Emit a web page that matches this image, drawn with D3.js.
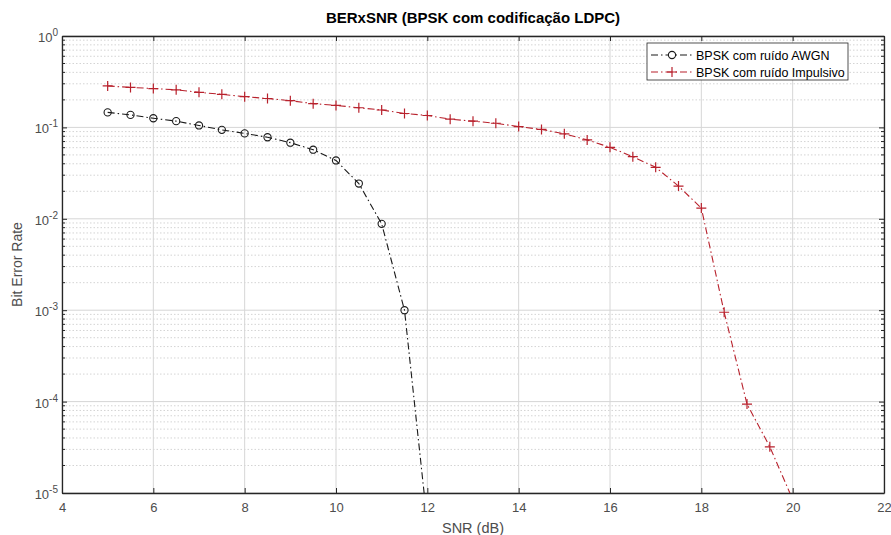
<!DOCTYPE html>
<html>
<head>
<meta charset="utf-8">
<script src="https://cdn.jsdelivr.net/npm/d3@7"></script>
<style>
  body { margin: 0; background: #fff; }
  svg { font-family: "Liberation Sans", Arial, sans-serif; }
</style>
</head>
<body>
<div id="chart"></div>
<script>
// SNR values (dB)
var snrAwgn = [5, 5.5, 6, 6.5, 7, 7.5, 8, 8.5, 9, 9.5, 10, 10.5, 11, 11.5, 12];
var berAwgn = [0.146, 0.137, 0.126, 0.117, 0.105, 0.094, 0.086, 0.078, 0.068, 0.057, 0.0435, 0.0243, 0.0088, 0.001, 0.0000047];

var snrImp = [5, 5.5, 6, 6.5, 7, 7.5, 8, 8.5, 9, 9.5, 10, 10.5, 11, 11.5, 12, 12.5, 13, 13.5, 14, 14.5, 15, 15.5, 16, 16.5, 17, 17.5, 18, 18.5, 19, 19.5, 20];
var berImp = [0.284, 0.274, 0.266, 0.258, 0.242, 0.23, 0.217, 0.207, 0.196, 0.182, 0.174, 0.164, 0.155, 0.142, 0.135, 0.123, 0.117, 0.111, 0.102, 0.095, 0.085, 0.073, 0.0605, 0.0478, 0.0366, 0.0228, 0.0131, 0.00095, 0.000094, 0.000032, 0.0000085];

var xTicks = [4, 6, 8, 10, 12, 14, 16, 18, 20, 22];
var yExps = [0, -1, -2, -3, -4, -5];
var legendLabels = ["BPSK com ruído AWGN", "BPSK com ruído Impulsivo"];

var W = 891, H = 535;
var margin = {left: 62, right: 7, top: 36, bottom: 42};
var axisColor = "#262626", tickText = "#4d4d4d";
var red = "#b8212c";
var dashDot = "7,3,1.5,3";

var svg = d3.select("#chart").append("svg").attr("width", W).attr("height", H);

var x = d3.scaleLinear().domain([4, 22]).range([margin.left, W - margin.right]);
var y = d3.scaleLog().domain([1e-5, 1]).range([H - margin.bottom, margin.top]);

var x0 = x.range()[0], x1 = x.range()[1], y0 = y.range()[0], y1 = y.range()[1];

svg.append("defs").append("clipPath").attr("id", "plotClip")
  .append("rect").attr("x", x0).attr("y", y1).attr("width", x1 - x0).attr("height", y0 - y1);

// minor y values
var minorY = [];
yExps.forEach(function(e) {
  if (e === 0) return;
  for (var k = 2; k <= 9; k++) minorY.push(k * Math.pow(10, e));
});

var grid = svg.append("g");
grid.selectAll(".ymin").data(minorY).enter().append("line")
  .attr("x1", x0).attr("x2", x1)
  .attr("y1", function(d) { return y(d); }).attr("y2", function(d) { return y(d); })
  .attr("stroke", "#d4d4d4").attr("stroke-width", 1).attr("stroke-dasharray", "1.5,2");
grid.selectAll(".ymaj").data(yExps).enter().append("line")
  .attr("x1", x0).attr("x2", x1)
  .attr("y1", function(d) { return y(Math.pow(10, d)); }).attr("y2", function(d) { return y(Math.pow(10, d)); })
  .attr("stroke", "#d6d6d6").attr("stroke-width", 1);
grid.selectAll(".xmaj").data(xTicks).enter().append("line")
  .attr("y1", y0).attr("y2", y1)
  .attr("x1", function(d) { return x(d); }).attr("x2", function(d) { return x(d); })
  .attr("stroke", "#d6d6d6").attr("stroke-width", 1);

// axes with inward ticks
var gx = svg.append("g").attr("transform", "translate(0," + y0 + ")")
  .call(d3.axisBottom(x).tickValues(xTicks).tickSizeInner(-5).tickSizeOuter(0).tickPadding(10));
var gxTop = svg.append("g").attr("transform", "translate(0," + y1 + ")")
  .call(d3.axisTop(x).tickValues(xTicks).tickSizeInner(-5).tickSizeOuter(0).tickFormat(""));
var gy = svg.append("g").attr("transform", "translate(" + x0 + ",0)")
  .call(d3.axisLeft(y).tickValues(yExps.map(function(e) { return Math.pow(10, e); }))
    .tickSizeInner(-5).tickSizeOuter(0).tickPadding(8).tickFormat(""));
var gyR = svg.append("g").attr("transform", "translate(" + x1 + ",0)")
  .call(d3.axisRight(y).tickValues(yExps.map(function(e) { return Math.pow(10, e); }))
    .tickSizeInner(-5).tickSizeOuter(0).tickFormat(""));
[gy, gyR].forEach(function(g, i) {
  g.selectAll(".minor").data(minorY).enter().append("line")
    .attr("x1", 0).attr("x2", i === 0 ? 3 : -3)
    .attr("y1", function(d) { return y(d); }).attr("y2", function(d) { return y(d); })
    .attr("stroke", axisColor);
});
[gx, gxTop, gy, gyR].forEach(function(g) {
  g.select(".domain").attr("stroke", axisColor).attr("stroke-width", 1.3);
  g.selectAll(".tick line").attr("stroke", axisColor);
  g.selectAll("text").attr("fill", tickText).style("font-size", "13px")
    .style("font-family", "'Liberation Sans', Arial, sans-serif");
});

// y tick labels 10^n
var ylab = svg.append("g");
yExps.forEach(function(e) {
  var t = ylab.append("text").attr("x", x0 - 4).attr("y", y(Math.pow(10, e)) + 6)
    .attr("text-anchor", "end").attr("fill", tickText).style("font-size", "13px");
  t.append("tspan").text("10");
  t.append("tspan").attr("dy", -6).style("font-size", "10px").text(e);
});

// series
var plot = svg.append("g").attr("clip-path", "url(#plotClip)");
function series(sx, sy, color) {
  var pts = sx.map(function(d, i) { return [x(d), y(sy[i])]; });
  plot.append("path").attr("d", d3.line()(pts))
    .attr("fill", "none").attr("stroke", color).attr("stroke-width", 1.1)
    .attr("stroke-dasharray", dashDot);
  return pts;
}
var pA = series(snrAwgn, berAwgn, "#1a1a1a");
plot.selectAll(".mo").data(pA).enter().append("circle")
  .attr("cx", function(d) { return d[0]; }).attr("cy", function(d) { return d[1]; })
  .attr("r", 3.6).attr("fill", "none").attr("stroke", "#1a1a1a").attr("stroke-width", 1.1);
var pI = series(snrImp, berImp, red);
plot.selectAll(".mp").data(pI).enter().append("path")
  .attr("d", function(d) { return "M" + (d[0] - 5) + "," + d[1] + "h10M" + d[0] + "," + (d[1] - 5) + "v10"; })
  .attr("stroke", red).attr("stroke-width", 1.2).attr("fill", "none");

// title and labels
svg.append("text").attr("x", (x0 + x1) / 2).attr("y", 23).attr("text-anchor", "middle")
  .style("font-size", "15px").style("font-weight", "bold").attr("fill", "#000")
  .text("BERxSNR (BPSK com codificação LDPC)");
svg.append("text").attr("x", (x0 + x1) / 2).attr("y", H - 2).attr("text-anchor", "middle")
  .style("font-size", "14.5px").attr("fill", tickText).text("SNR (dB)");
svg.append("text").attr("transform", "translate(22," + ((y0 + y1) / 2) + ") rotate(-90)")
  .attr("text-anchor", "middle").style("font-size", "14px").attr("fill", tickText).text("Bit Error Rate");

// legend
var lg = svg.append("g").attr("transform", "translate(647,43)");
lg.append("rect").attr("width", 201).attr("height", 37).attr("fill", "#fff")
  .attr("stroke", "#262626").attr("stroke-width", 0.8);
var legendColors = ["#1a1a1a", red];
legendLabels.forEach(function(lab, i) {
  var cy = 12 + i * 17;
  lg.append("line").attr("x1", 4).attr("x2", 46).attr("y1", cy).attr("y2", cy)
    .attr("stroke", legendColors[i]).attr("stroke-width", 1.1).attr("stroke-dasharray", dashDot);
  if (i === 0) {
    lg.append("circle").attr("cx", 25).attr("cy", cy).attr("r", 3.6)
      .attr("fill", "#fff").attr("stroke", legendColors[i]).attr("stroke-width", 1.1);
  } else {
    lg.append("path").attr("d", "M20," + cy + "h10M25," + (cy - 5) + "v10")
      .attr("stroke", legendColors[i]).attr("stroke-width", 1.2);
  }
  lg.append("text").attr("x", 49).attr("y", cy + 4.5).style("font-size", "12.5px")
    .attr("fill", "#000").text(lab);
});
</script>
</body>
</html>
